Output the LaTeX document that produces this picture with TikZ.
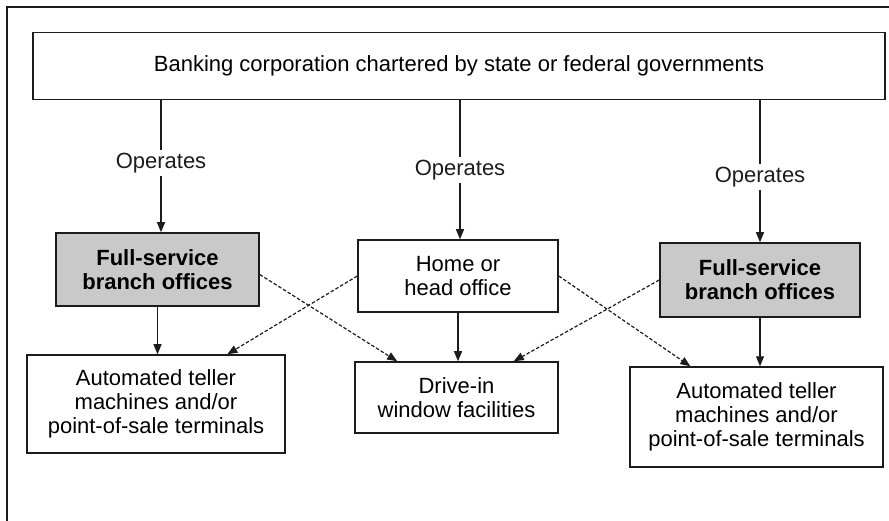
\documentclass[tikz,border=0pt]{standalone}
\usepackage{fontspec}
\setmainfont{Liberation Sans}
\usetikzlibrary{arrows.meta, positioning, calc}
\definecolor{cshade}{HTML}{C9C9C9}
\definecolor{cline}{HTML}{1C1C1C}
\tikzset{
  every picture/.style={font=\fontsize{22}{24}\selectfont, line width=1.2pt, draw=cline},
  box/.style={draw=cline, fill=#1, align=center, inner sep=2pt, line width=1.5pt},
  box/.default=white,
  op/.style={inner sep=2pt, text=cline},
  arrow/.style={-{Triangle[length=10pt, width=8pt]}, draw=cline, line width=1.2pt},
  cross/.style={arrow, dash pattern=on 3.5pt off 2pt},
  frame/.style={draw=cline, line width=1.5pt},
}

\begin{document}
\begin{tikzpicture}[x=1pt, y=-1pt]
  \useasboundingbox (0,0) rectangle (889,521);
  \draw[frame] (7,521) -- (7,7) -- (889,7);
  % top level
  \node[box, minimum width=852pt, minimum height=67pt] (corp) at (459,66) {Banking corporation chartered by state or federal governments};
  \node[op] (opL) at (161,163) {Operates};
  \node[op] (opM) at (460,170) {Operates};
  \node[op] (opR) at (760,177) {Operates};
  % offices
  \node[box=cshade, font=\fontsize{22}{24}\selectfont\bfseries, minimum width=203pt, minimum height=73pt] (fsL) at (157.5,269.5) {Full-service\\branch offices};
  \node[box, minimum width=200pt, minimum height=72pt] (head) at (458,276) {Home or\\head office};
  \node[box=cshade, font=\fontsize{22}{24}\selectfont\bfseries, minimum width=200pt, minimum height=74pt] (fsR) at (760,280) {Full-service\\branch offices};
  % facilities
  \node[box, minimum width=258pt, minimum height=98pt] (atmL) at (156,404) {Automated teller\\machines and/or\\point-of-sale terminals};
  \node[box, minimum width=203pt, minimum height=71pt] (drive) at (456.5,397.5) {Drive-in\\window facilities};
  \node[box, minimum width=253pt, minimum height=100pt] (atmR) at (756.5,417) {Automated teller\\machines and/or\\point-of-sale terminals};
  % operates links
  \draw (corp.south -| opL) -- (opL);
  \draw (corp.south -| opM) -- (opM);
  \draw (corp.south -| opR) -- (opR);
  \draw[arrow] (opL.south) -- (opL.south |- fsL.north);
  \draw[arrow] (opM.south) -- (opM.south |- head.north);
  \draw[arrow] (opR.south) -- (opR.south |- fsR.north);
  % straight down
  \draw[arrow] (fsL.south) -- (fsL.south |- atmL.north);
  \draw[arrow] (head.south) -- (head.south |- drive.north);
  \draw[arrow] (fsR.south) -- (fsR.south |- atmR.north);
  % crossing links
  \draw[cross] ([yshift=-5pt]fsL.east) -- ($(drive.north west)!0.21!(drive.north east)$);
  \draw[cross] (head.west) -- ($(atmL.north west)!0.775!(atmL.north east)$);
  \draw[cross] (head.east) -- ($(atmR.north west)!0.24!(atmR.north east)$);
  \draw[cross] (fsR.west) -- ($(drive.north west)!0.78!(drive.north east)$);
\end{tikzpicture}
\end{document}
